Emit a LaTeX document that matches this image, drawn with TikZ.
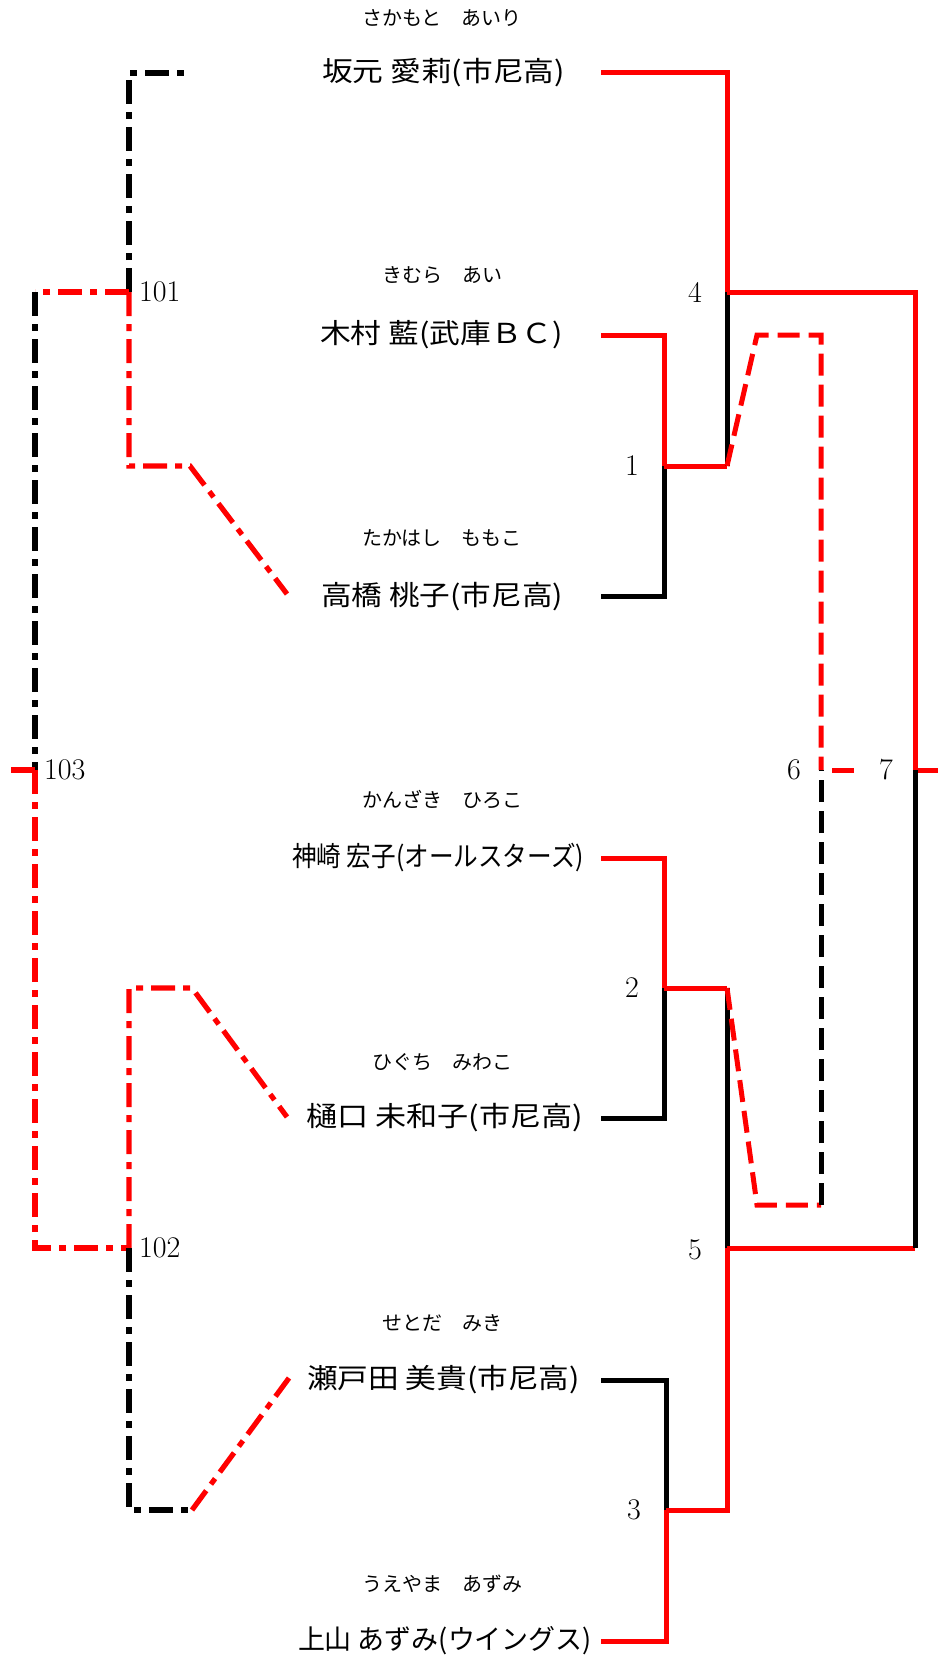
\documentclass[tikz,border=0pt]{standalone}
\usepackage{fontspec}
\usepackage{graphicx}
\newfontfamily\jp{Noto Sans CJK JP}
\definecolor{win}{RGB}{255,0,0}
\newcommand{\nm}[2]{\resizebox{#1pt}{\height}{#2}}
\tikzset{
  solidln/.style={line width=5pt, line join=miter},
  dashln/.style={line width=5pt, dash pattern=on 22pt off 9pt},
  dotdash/.style={line width=5.2pt, dash pattern=on 24pt off 8pt on 7pt off 8pt},
  namet/.style={font=\jp\fontsize{27.5}{29}\selectfont, inner sep=0pt, anchor=center},
  kanat/.style={font=\jp\fontsize{20}{22}\selectfont, inner sep=0pt, anchor=center},
  numt/.style={font=\fontsize{30}{32}\selectfont, inner sep=0pt, anchor=center},
}
\begin{document}
\begin{tikzpicture}[x=1pt,y=-1pt]
\useasboundingbox (0,0) rectangle (938,1656);
% texts
\node[kanat] (k1) at (442,18) {さかもと　あいり};
\node[namet] (n1) at (443.5,73) {\nm{243}{坂元 愛莉(市尼高)}};
\node[kanat] (k2) at (442,275) {きむら　あい};
\node[namet] (n2) at (441.5,335) {\nm{243}{木村 藍(武庫ＢＣ)}};
\node[kanat] (k3) at (442,538) {たかはし　ももこ};
\node[namet] (n3) at (442,597) {\nm{242}{高橋 桃子(市尼高)}};
\node[kanat] (k4) at (442,800) {かんざき　ひろこ};
\node[namet] (n4) at (438,858) {\nm{292}{神崎 宏子(オールスターズ)}};
\node[kanat] (k5) at (442,1062) {ひぐち　みわこ};
\node[namet] (n5) at (444.5,1118) {\nm{277}{樋口 未和子(市尼高)}};
\node[kanat] (k6) at (442,1323) {せとだ　みき};
\node[namet] (n6) at (443.5,1380) {\nm{273}{瀬戸田 美貴(市尼高)}};
\node[kanat] (k7) at (442,1584) {うえやま　あずみ};
\node[namet] (n7) at (445,1641) {\nm{294}{上山 あずみ(ウイングス)}};
% round numbers
\node[numt] (r1) at (632,466) {1};
\node[numt] (r2) at (632,988) {2};
\node[numt] (r3) at (634,1510) {3};
\node[numt] (r4) at (695,292) {4};
\node[numt] (r5) at (695,1250) {5};
\node[numt] (r6) at (794,770) {6};
\node[numt] (r7) at (886,770) {7};
\node[numt, anchor=west] (r101) at (139,292) {101};
\node[numt, anchor=west] (r102) at (139,1248) {102};
\node[numt, anchor=west] (r103) at (44,770) {103};
% coordinates
\coordinate (s1) at (601,73);   \coordinate (t1) at (727,73);
\coordinate (s2) at (601,335);  \coordinate (t2) at (664,335);
\coordinate (s3) at (601,596);  \coordinate (t3) at (664,596);
\coordinate (s4) at (601,858);  \coordinate (t4) at (664,858);
\coordinate (s5) at (601,1118); \coordinate (t5) at (664,1118);
\coordinate (s6) at (601,1380); \coordinate (t6) at (666,1380);
\coordinate (s7) at (601,1641); \coordinate (t7) at (666,1641);
\coordinate (c1) at (664,466);  \coordinate (c1r) at (727,466);
\coordinate (c2) at (664,988);  \coordinate (c2r) at (727,988);
\coordinate (c3) at (666,1510); \coordinate (c3r) at (727,1510);
\coordinate (c4) at (727,292);  \coordinate (c4r) at (915,292);
\coordinate (c5) at (727,1248); \coordinate (c5r) at (915,1248);
\coordinate (c7) at (915,770);  \coordinate (c7e) at (938,770);
\coordinate (d1) at (757,335);  \coordinate (d2) at (821,335);
\coordinate (d3) at (757,1205); \coordinate (d4) at (821,1205);
\coordinate (c6) at (821,770);  \coordinate (c6e) at (854,770);
% main bracket
\draw[solidln, win] (s1) -- (t1) -- (c4);
\draw[solidln, win] (s2) -- (t2) -- (c1);
\draw[solidln] (s3) -- (t3) -- (c1);
\draw[solidln, win] (c1) -- (c1r);
\draw[solidln] (c1r) -- (c4);
\draw[solidln, win] (c4) -- (c4r) -- (c7);
\draw[solidln, win] (c7) -- (c7e);
\draw[solidln, win] (s4) -- (t4) -- (c2);
\draw[solidln] (s5) -- (t5) -- (c2);
\draw[solidln, win] (c2) -- (c2r);
\draw[solidln] (c2r) -- (c5);
\draw[solidln] (s6) -- (t6) -- (c3);
\draw[solidln, win] (s7) -- (t7) -- (c3);
\draw[solidln, win] (c3) -- (c3r) -- (c5);
\draw[solidln, win] (c5) -- (c5r);
\draw[solidln] (c5r) -- (c7);
% match 6
\draw[dashln, win] (c1r) -- (d1) -- (d2) -- (c6);
\draw[dashln, win] (c2r) -- (d3) -- (d4);
\draw[dashln] (d4) -- (c6);
\draw[line width=5pt, win, dash pattern=on 0pt off 11pt on 22pt off 9pt] (c6) -- (c6e);
% repechage
\coordinate (a0) at (188,73);  \coordinate (a1) at (129,73);
\coordinate (c101) at (129,292);
\coordinate (a2) at (129,466); \coordinate (a3) at (190,466); \coordinate (a4) at (287,594);
\coordinate (a5) at (35,292);
\coordinate (c103) at (35,770); \coordinate (c103e) at (11,770);
\coordinate (a6) at (35,1248);
\coordinate (c102) at (129,1248);
\coordinate (b1) at (129,988); \coordinate (b2) at (192,988); \coordinate (b3) at (287,1117);
\coordinate (b4) at (129,1510); \coordinate (b5) at (192,1510); \coordinate (b6) at (289,1378);
\draw[dotdash] (c101) -- (a1) -- (a0);
\draw[dotdash, win] (c101) -- (a2) -- (a3) -- (a4);
\draw[dotdash, win] (c101) -- (a5);
\draw[dotdash] (a5) -- (c103);
\draw[dotdash, win] (c103) -- (a6) -- (c102);
\draw[dotdash, win] (c102) -- (b1) -- (b2) -- (b3);
\draw[dotdash] (c102) -- (b4) -- (b5);
\draw[dotdash, win] (b5) -- (b6);
\draw[line width=5.2pt, win] (c103) -- (c103e);
\end{tikzpicture}
\end{document}
